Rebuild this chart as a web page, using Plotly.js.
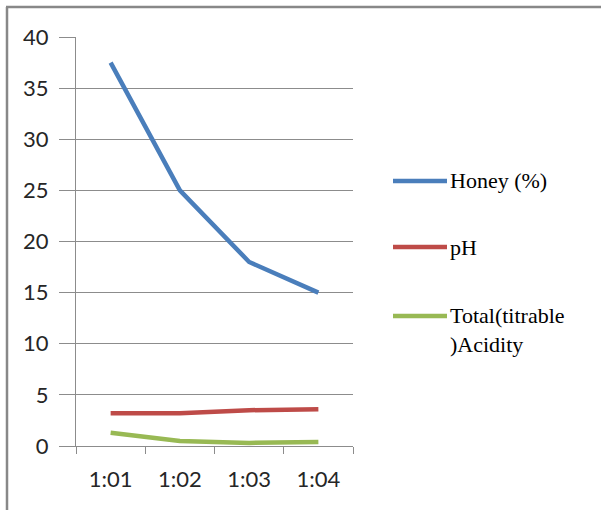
<!DOCTYPE html>
<html>
<head>
<meta charset="utf-8">
<script src="https://cdn.plot.ly/plotly-3.0.1.min.js"></script>
<style>html,body{margin:0;padding:0;background:#fff;}#chart{width:601px;height:510px;}</style>
</head>
<body>
<div id="chart"></div>
<script>
const categories = ["1:01", "1:02", "1:03", "1:04"];
const seriesNames = ["Honey (%)", "pH", "Total(titrable<br>)Acidity"];
const honey = [37.5, 25, 18, 15];
const ph = [3.2, 3.2, 3.5, 3.6];
const acidity = [1.3, 0.5, 0.3, 0.4];
const seriesColors = ["#4A7EBB", "#BE4B48", "#98B954"];
const yTicks = [0, 5, 10, 15, 20, 25, 30, 35, 40];

const values = [honey, ph, acidity];
const traces = values.map((v, i) => ({
  type: "scatter",
  mode: "lines",
  x: categories,
  y: v,
  name: seriesNames[i],
  line: {color: seriesColors[i], width: 4.5},
  showlegend: false,
  hoverinfo: "skip"
}));

// plot area geometry (px)
const L = 76, R = 353, T = 37, B = 446;
const px2x = p => (p - L) / (R - L);
const px2y = p => (B - p) / (B - T);

const legendY = [181, 247, 316];
const shapes = [];
const annotations = [];
legendY.forEach((py, i) => {
  shapes.push({type: "line", xref: "paper", yref: "paper",
    x0: px2x(393), x1: px2x(447), y0: px2y(py), y1: px2y(py),
    line: {color: seriesColors[i], width: 4.5}});
  const multi = seriesNames[i].indexOf("<br>") >= 0;
  annotations.push({xref: "paper", yref: "paper", x: px2x(448), 
    y: multi ? px2y(py - 15) : px2y(py),
    xanchor: "left", yanchor: multi ? "top" : "middle", align: "left",
    showarrow: false, text: seriesNames[i],
    font: {family: "Liberation Serif, Times New Roman, serif", size: 22, color: "#000"}});
});
// outer chart border (top and left visible)
shapes.push({type: "line", xref: "paper", yref: "paper",
  x0: px2x(7), x1: px2x(7), y0: px2y(7), y1: px2y(520), line: {color: "#888888", width: 2.5}});
shapes.push({type: "line", xref: "paper", yref: "paper",
  x0: px2x(6), x1: px2x(610), y0: px2y(7), y1: px2y(7), line: {color: "#888888", width: 2.5}});

const layout = {
  width: 601, height: 510,
  margin: {l: L, r: 601 - R, t: T, b: 510 - B, pad: 0},
  paper_bgcolor: "#fff", plot_bgcolor: "#fff",
  showlegend: false,
  xaxis: {
    type: "category", range: [-0.5, 3.5],
    showline: true, linecolor: "#8c8c8c", linewidth: 1,
    ticks: "outside", tickson: "boundaries", ticklen: 7, tickcolor: "#8c8c8c",
    showgrid: false, zeroline: false, fixedrange: true,
    ticklabelstandoff: 14,
    tickfont: {family: "Lato, Calibri, sans-serif", size: 22, color: "#262626"}
  },
  yaxis: {
    range: [0, 40], tickvals: yTicks, ticktext: yTicks.map(String),
    showline: true, linecolor: "#8c8c8c", linewidth: 1,
    ticks: "outside", ticklen: 16, tickcolor: "#8c8c8c",
    showgrid: true, gridcolor: "#8c8c8c", gridwidth: 1, zeroline: false,
    ticklabelstandoff: 6, fixedrange: true,
    tickfont: {family: "Lato, Calibri, sans-serif", size: 22, color: "#262626"}
  },
  shapes: shapes,
  annotations: annotations
};

Plotly.newPlot("chart", traces, layout, {displayModeBar: false, staticPlot: true});
</script>
</body>
</html>
